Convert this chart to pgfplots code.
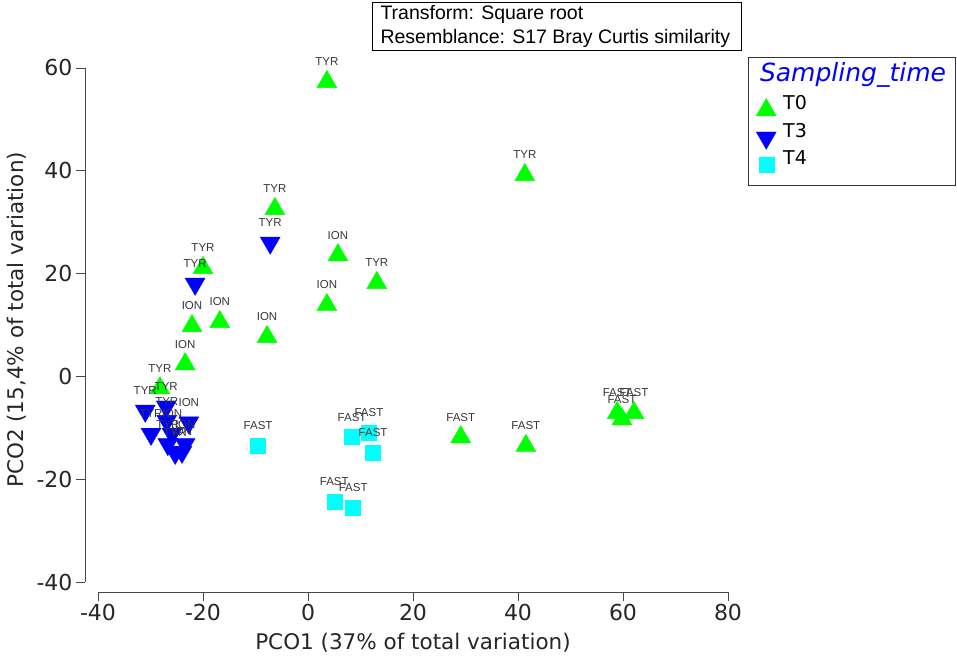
\documentclass[border=0pt]{standalone}
\usepackage{pgfplots}
\pgfplotsset{compat=1.18}
\usepackage{fontspec}
\setmainfont{DejaVu Sans}
\newfontfamily\arialf{Liberation Sans}
\definecolor{tzero}{RGB}{0,255,0}
\definecolor{tthree}{RGB}{0,0,255}
\definecolor{tfour}{RGB}{0,255,255}
\definecolor{labgray}{RGB}{55,55,55}
\definecolor{axgray}{RGB}{70,70,70}

\pgfplotstableread{
x y lab
3.6 57.3 TYR
41.3 39.2 TYR
-6.3 32.6 TYR
5.7 23.6 ION
13.1 18.2 TYR
-20.0 21.1 TYR
3.6 13.9 ION
-16.8 10.6 ION
-22.1 9.8 ION
-7.8 7.7 ION
-23.4 2.4 ION
-28.2 -2.3 TYR
29.1 -11.8 FAST
41.5 -13.5 FAST
58.9 -7.1 FAST
59.8 -8.3 FAST
62.1 -7.1 FAST
}\tzerotab

\pgfplotstableread{
x y lab
-7.2 26.0 TYR
-21.5 18.0 TYR
-31.0 -6.7 TYR
-27.0 -5.9 TYR
-26.9 -8.7 TYR
-22.7 -9.0 ION
-29.9 -11.2 TYR
-25.9 -11.2 ION
-26.7 -13.2 TYR
-23.4 -13.2 ION
-25.3 -14.9 TYR
-24.0 -14.7 ION
}\tthreetab

\pgfplotstableread{
x y lab
-9.5 -13.5 FAST
8.4 -11.8 FAST
11.6 -11.0 FAST
12.4 -14.9 FAST
5.0 -24.4 FAST
8.6 -25.6 FAST
}\tfourtab

\begin{document}
\begin{tikzpicture}[x=1pt,y=1pt]
\begin{axis}[name=ax, at={(0,0)}, anchor=south west,
  scale only axis, width=630pt, height=514pt,
  xmin=-40, xmax=80, ymin=-40, ymax=60,
  axis lines=left,
  axis line style={-, axgray, line width=0.9pt},
  axis x line shift=10pt, axis y line shift=13pt,
  xtick={-40,-20,...,80}, ytick={-40,-20,...,60},
  tick align=outside, major tick length=9pt,
  tick style={axgray, line width=0.9pt},
  /pgf/number format/assume math mode=true,
  tick label style={font=\fontsize{22}{26}\selectfont, text=black!85},
  xlabel={PCO1 (37\% of total variation)},
  ylabel={PCO2 (15,4\% of total variation)},
  every axis x label/.style={at={(axis description cs:0.5,-0.1187)}, anchor=center,
    font=\fontsize{21.5}{26}\selectfont, text=black!85},
  every axis y label/.style={at={(axis description cs:-0.1286,0.51)}, anchor=center, rotate=90,
    font=\fontsize{21.5}{26}\selectfont, text=black!85},
  clip=false,
  nodes near coords,
  point meta=explicit symbolic,
  nodes near coords style={font=\arialf\fontsize{11.5}{12}\selectfont, text=labgray, anchor=center, yshift=20pt},
  legend style={at={(axis description cs:1.0445,0.955)}, anchor=north west, draw=none, fill=none,
    font=\fontsize{19}{21}\selectfont, row sep=8pt, inner sep=2pt,
    /tikz/every odd column/.append style={column sep=7pt}},
  legend image code/.code={%
    \begin{pgfinterruptboundingbox}
    \draw[#1] plot coordinates {(8pt,-7pt)};
    \end{pgfinterruptboundingbox}
    \path[draw=none, fill=none] (0pt,-6pt) rectangle (16pt,6pt);},
  legend cell align=left,
]
\addplot[only marks, mark=triangle*, mark size=11.5pt, color=tzero, mark options={draw=tzero, fill=tzero}]
  table[x=x, y=y, meta=lab]{\tzerotab};
\addlegendentry{T0}
\addplot[only marks, mark=triangle*, mark size=11.5pt, color=tthree, mark options={draw=tthree, fill=tthree, rotate=180}]
  table[x=x, y=y, meta=lab]{\tthreetab};
\addlegendentry{T3}
\addplot[only marks, mark=square*, mark size=7.5pt, color=tfour, mark options={draw=tfour, fill=tfour}]
  table[x=x, y=y, meta=lab]{\tfourtab};
\addlegendentry{T4}
\end{axis}
% legend frame and title
\draw[black!80, line width=0.9pt] (650,525) rectangle (857,397);
\node[font=\fontsize{25}{28}\selectfont\itshape, text=tthree] at (755,507) {Sampling\_time};
% header box
\draw[black, line width=0.9pt] (274,580) rectangle (643,532);
\node[font=\arialf\fontsize{19.5}{22}\selectfont, anchor=west] at (279,568) {Transform: Square root};
\node[font=\arialf\fontsize{19.5}{22}\selectfont, anchor=west] at (279,544) {Resemblance: S17 Bray Curtis similarity};
\pgfresetboundingbox
\path[use as bounding box] (-98,-77) rectangle (859,582);
\end{tikzpicture}
\end{document}
